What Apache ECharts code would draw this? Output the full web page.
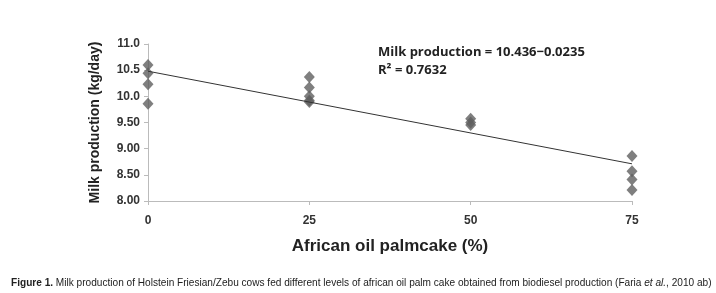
<!DOCTYPE html>
<html lang="en">
<head>
    <meta charset="UTF-8">
    <title>Milk production</title>
    <script src="https://cdn.jsdelivr.net/npm/echarts@6/dist/echarts.min.js"></script>
</head>
<body style="margin:0;background:#fff">
    <div id="ec" style="width:716px;height:293px"></div>
</body>
<script>
    var level0 = [[0, 10.60], [0, 10.44], [0, 10.23], [0, 9.86]]
    var level25 = [[25, 10.37], [25, 10.17], [25, 10.00], [25, 9.92], [25, 9.89]]
    var level50 = [[50, 9.57], [50, 9.50], [50, 9.45]]
    var level75 = [[75, 8.86], [75, 8.57], [75, 8.41], [75, 8.21]]
    // fitted line as drawn
    var trend = [[0, 10.48], [75, 8.71]]
    var xTicks = [0, 25, 50, 75]
    var yTickLabels = {'8': '8.00', '8.5': '8.50', '9': '9.00', '9.5': '9.50', '10': '10.0', '10.5': '10.5', '11': '11.0'}

    var mychart = echarts.init(document.getElementById('ec'))
    var points = level0.concat(level25, level50, level75)

    var options = {
        animation: false,
        grid: {left: 148, right: 84, top: 44, bottom: 92},
        title: {
            text: '{b|Figure 1.} Milk production of Holstein Friesian/Zebu cows fed different levels of african oil palm cake obtained from biodiesel production (Faria {i|et al.}, 2010 ab)',
            left: 6,
            top: 273,
            textStyle: {
                fontFamily: 'Liberation Sans',
                fontSize: 10.1,
                fontWeight: 'normal',
                color: '#222',
                rich: {
                    b: {fontFamily: 'Liberation Sans', fontSize: 10.1, fontWeight: 'bold', color: '#222'},
                    i: {fontFamily: 'Liberation Sans', fontSize: 10.1, fontStyle: 'italic', color: '#222'}
                }
            }
        },
        graphic: [{
            type: 'text',
            left: 378,
            top: 43,
            style: {
                text: 'Milk production = 10.436\u22120.0235\nR\u00b2 = 0.7632',
                font: 'bold 13px "Open Sans"',
                lineHeight: 18,
                fill: '#222'
            }
        }],
        xAxis: {
            type: 'value',
            min: 0,
            max: 75,
            interval: 25,
            name: 'African oil palmcake (%)',
            nameLocation: 'middle',
            nameGap: 37,
            nameTextStyle: {fontFamily: 'Liberation Sans', fontSize: 17, fontWeight: 'bold', color: '#222'},
            axisLine: {lineStyle: {color: '#bbb'}},
            axisTick: {show: true, length: 4, lineStyle: {color: '#bbb'}},
            splitLine: {show: false},
            axisLabel: {
                margin: 14,
                fontFamily: 'Liberation Sans',
                fontSize: 12,
                fontWeight: 'bold',
                color: '#333',
                formatter: function (v) { return xTicks.indexOf(v) >= 0 ? String(v) : '' }
            }
        },
        yAxis: {
            type: 'value',
            min: 8,
            max: 11,
            interval: 0.5,
            name: 'Milk production (kg/day)',
            nameLocation: 'middle',
            nameGap: 46,
            nameTextStyle: {fontFamily: 'Liberation Sans', fontSize: 14, fontWeight: 'bold', color: '#222'},
            axisLine: {show: true, lineStyle: {color: '#bbb'}},
            axisTick: {show: true, length: 4, lineStyle: {color: '#bbb'}},
            splitLine: {show: false},
            axisLabel: {
                margin: 8,
                fontFamily: 'Liberation Sans',
                fontSize: 12,
                fontWeight: 'bold',
                color: '#333',
                formatter: function (v) { return yTickLabels[String(v)] }
            }
        },
        series: [{
            type: 'line',
            data: trend,
            symbol: 'none',
            lineStyle: {color: '#333', width: 1}
        }, {
            type: 'scatter',
            data: points,
            symbol: 'diamond',
            symbolSize: [11, 12],
            itemStyle: {color: '#5f5f5f'}
        }]
    }
    mychart.setOption(options)
</script>
</html>
